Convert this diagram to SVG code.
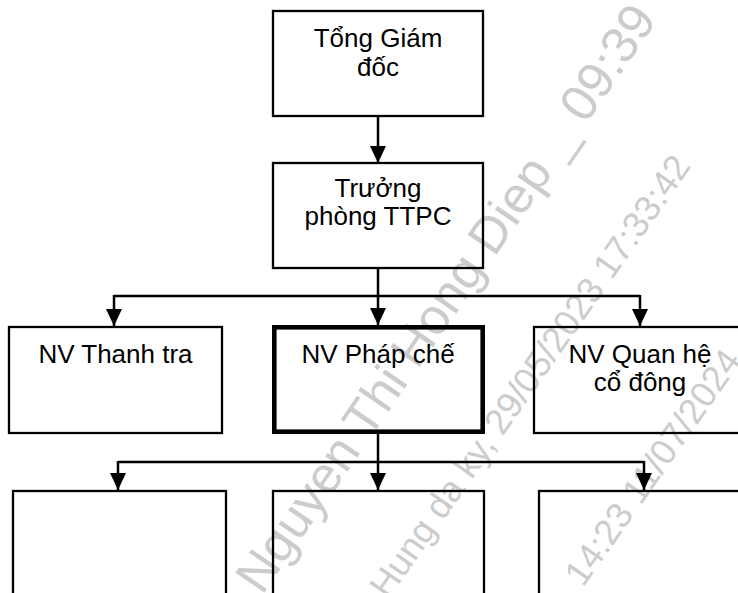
<svg xmlns="http://www.w3.org/2000/svg" width="738" height="593" viewBox="0 0 738 593">
<style>
.box{fill:none;stroke:#000;stroke-width:2.3}
.thick{fill:none;stroke:#000;stroke-width:4.6}
.lbl{font-family:"Liberation Sans",Arial,sans-serif;font-size:26px;fill:#000;text-anchor:middle}
.wm{font-family:"Liberation Sans",Arial,sans-serif;fill:#cccccc}
.ln{fill:none;stroke:#000;stroke-width:2.5}
</style>
<defs>
<marker id="arr" viewBox="0 0 17 16" refX="17" refY="8" markerWidth="17" markerHeight="16" orient="auto" markerUnits="userSpaceOnUse">
<path d="M0,0 L17,8 L0,16 Z" fill="#000"/>
</marker>
</defs>
<rect x="0" y="0" width="738" height="593" fill="#fff"/>
<g id="watermark">
<text class="wm" font-size="51" transform="translate(262,596) rotate(-55.5)">Nguyen Thi Hong Diep _ 09:39</text>
<text class="wm" font-size="36" transform="translate(388,600) rotate(-55)">Hung da ky, 29/05/2023 17:33:42</text>
<text class="wm" font-size="36" transform="translate(583,588) rotate(-55)">14:23 11/07/2024</text>
</g>
<g id="connectors">
<path class="ln" d="M378,116 V163" marker-end="url(#arr)"/>
<path class="ln" d="M378,268 V325" marker-end="url(#arr)"/>
<path class="ln" d="M114,296 H640"/>
<path class="ln" d="M114,295 V326" marker-end="url(#arr)"/>
<path class="ln" d="M640,295 V326" marker-end="url(#arr)"/>
<path class="ln" d="M378,434 V490" marker-end="url(#arr)"/>
<path class="ln" d="M118,462 H644"/>
<path class="ln" d="M118,461 V490" marker-end="url(#arr)"/>
<path class="ln" d="M644,461 V490" marker-end="url(#arr)"/>
</g>
<g id="tong-giam-doc">
<rect class="box" x="273" y="11" width="210" height="105"/>
<text class="lbl" x="378" y="47">Tổng Giám</text>
<text class="lbl" x="378" y="76">đốc</text>
</g>
<g id="truong-phong">
<rect class="box" x="273" y="163" width="210" height="105"/>
<text class="lbl" x="378" y="197">Trưởng</text>
<text class="lbl" x="378" y="225">phòng TTPC</text>
</g>
<g id="nv-thanh-tra">
<rect class="box" x="9" y="327" width="213" height="106"/>
<text class="lbl" x="115.5" y="363">NV Thanh tra</text>
</g>
<g id="nv-phap-che">
<rect class="thick" x="274.3" y="327.3" width="208.4" height="104.4"/>
<text class="lbl" x="378" y="363">NV Pháp chế</text>
</g>
<g id="nv-quan-he">
<rect class="box" x="534" y="327" width="212" height="106"/>
<text class="lbl" x="640" y="363">NV Quan hệ</text>
<text class="lbl" x="640" y="391">cổ đông</text>
</g>
<g id="box-bottom-left">
<rect class="box" x="13" y="491" width="213" height="120"/>
</g>
<g id="box-bottom-center">
<rect class="box" x="273" y="491" width="211" height="120"/>
</g>
<g id="box-bottom-right">
<rect class="box" x="539" y="491" width="213" height="120"/>
</g>
</svg>
